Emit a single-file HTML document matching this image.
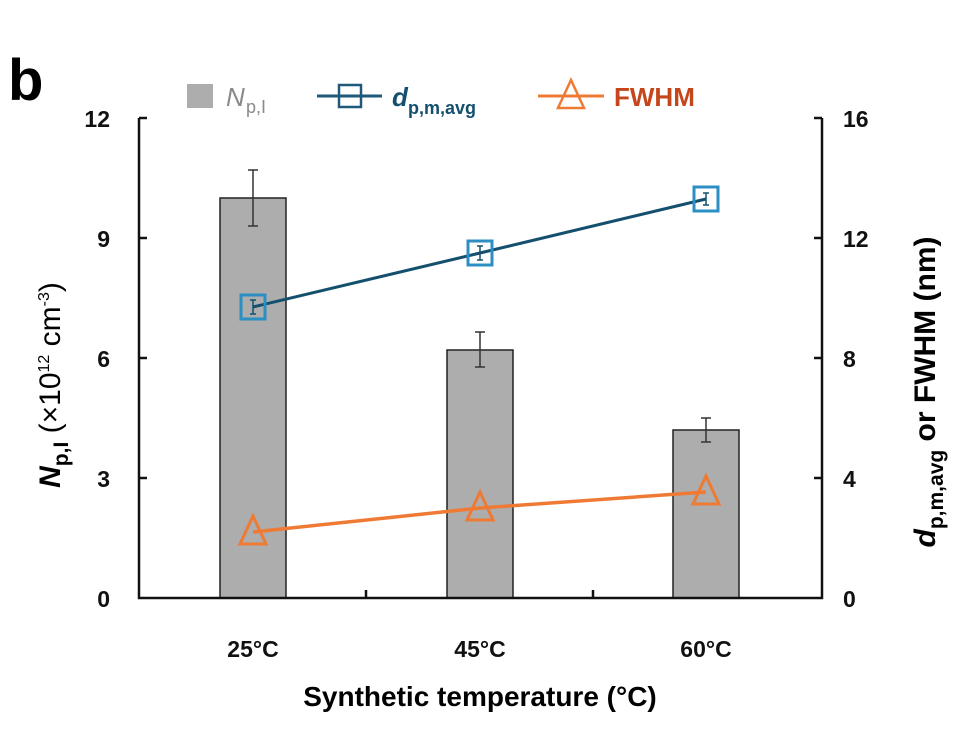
<!DOCTYPE html>
<html><head><style>body{margin:0;background:#fff}svg{display:block}</style></head><body>
<svg width="955" height="731" viewBox="0 0 955 731" xmlns="http://www.w3.org/2000/svg" font-family="'Liberation Sans',sans-serif">
<text x="8" y="100" font-size="58" font-weight="bold">b</text>
<!-- legend -->
<rect x="187" y="84" width="26" height="24" fill="#adadad"/>
<text x="226" y="106" font-size="26" fill="#8a8a8a" font-style="italic">N</text>
<text x="246" y="113" font-size="18" fill="#8a8a8a">p,I</text>
<line x1="317" y1="96" x2="382" y2="96" stroke="#1d5a7a" stroke-width="3"/>
<rect x="339" y="85" width="22" height="22" fill="none" stroke="#1d5a7a" stroke-width="2.5"/>
<text x="392" y="106" font-size="26" fill="#14506e" font-style="italic" font-weight="bold">d</text>
<text x="408" y="114" font-size="18" fill="#14506e" font-weight="bold">p,m,avg</text>
<line x1="538" y1="96" x2="604" y2="96" stroke="#ef7a34" stroke-width="3"/>
<polygon points="571,80 558,108 584,108" fill="none" stroke="#ef7a34" stroke-width="2.5"/>
<text x="614" y="106" font-size="26" fill="#c4461a" font-weight="bold">FWHM</text>
<!-- bars -->
<g fill="#adadad" stroke="#222" stroke-width="1.5">
<rect x="220" y="198" width="66" height="400"/>
<rect x="447" y="350" width="66" height="248"/>
<rect x="673" y="430" width="66" height="168"/>
</g>
<g stroke="#333" stroke-width="1.5">
<line x1="253" y1="170" x2="253" y2="226"/><line x1="248" y1="170" x2="258" y2="170"/><line x1="248" y1="226" x2="258" y2="226"/>
<line x1="480" y1="332" x2="480" y2="367"/><line x1="475" y1="332" x2="485" y2="332"/><line x1="475" y1="367" x2="485" y2="367"/>
<line x1="706" y1="418" x2="706" y2="442"/><line x1="701" y1="418" x2="711" y2="418"/><line x1="701" y1="442" x2="711" y2="442"/>
</g>
<!-- axes -->
<g stroke="#111" stroke-width="2.5" fill="none">
<polyline points="139,118 139,598 822,598 822,118"/>
<line x1="139" y1="118" x2="147" y2="118"/><line x1="139" y1="238" x2="147" y2="238"/><line x1="139" y1="358" x2="147" y2="358"/><line x1="139" y1="478" x2="147" y2="478"/>
<line x1="822" y1="118" x2="814" y2="118"/><line x1="822" y1="238" x2="814" y2="238"/><line x1="822" y1="358" x2="814" y2="358"/><line x1="822" y1="478" x2="814" y2="478"/>
<line x1="366" y1="598" x2="366" y2="590"/><line x1="593" y1="598" x2="593" y2="590"/>
</g>
<!-- lines -->
<polyline points="253,307 480,253 706,199" fill="none" stroke="#14506e" stroke-width="3"/>
<g fill="none" stroke="#2b8fc4" stroke-width="3">
<rect x="241" y="295" width="24" height="24"/><rect x="468" y="241" width="24" height="24"/><rect x="694" y="187" width="24" height="24"/>
</g>
<g stroke="#14506e" stroke-width="1.5">
<line x1="253" y1="300" x2="253" y2="314"/><line x1="250" y1="300" x2="256" y2="300"/><line x1="250" y1="314" x2="256" y2="314"/>
<line x1="480" y1="246" x2="480" y2="260"/><line x1="477" y1="246" x2="483" y2="246"/><line x1="477" y1="260" x2="483" y2="260"/>
<line x1="706" y1="193" x2="706" y2="205"/><line x1="703" y1="193" x2="709" y2="193"/><line x1="703" y1="205" x2="709" y2="205"/>
</g>
<polyline points="253,532 480,508 706,492" fill="none" stroke="#ef7a34" stroke-width="3.5"/>
<g fill="none" stroke="#ef7a34" stroke-width="3">
<polygon points="253,516 240,544 266,544"/><polygon points="480,492 467,520 493,520"/><polygon points="706,476 693,504 719,504"/>
</g>
<!-- tick labels -->
<g font-size="23" font-weight="bold" fill="#111">
<g text-anchor="end"><text x="110" y="127">12</text><text x="110" y="247">9</text><text x="110" y="367">6</text><text x="110" y="487">3</text><text x="110" y="607">0</text></g>
<g text-anchor="start"><text x="843" y="127">16</text><text x="843" y="247">12</text><text x="843" y="367">8</text><text x="843" y="487">4</text><text x="843" y="607">0</text></g>
<g text-anchor="middle"><text x="253" y="657">25°C</text><text x="480" y="657">45°C</text><text x="706" y="657">60°C</text></g>
</g>
<text x="480" y="706" font-size="28" font-weight="bold" text-anchor="middle">Synthetic temperature (°C)</text>
<text transform="translate(60,385) rotate(-90)" font-size="30" font-weight="bold" text-anchor="middle"><tspan font-style="italic">N</tspan><tspan font-size="21" dy="8">p,I</tspan><tspan dy="-8" font-weight="normal"> (×10</tspan><tspan font-size="16" dy="-11" font-weight="normal">12</tspan><tspan dy="11" font-weight="normal"> cm</tspan><tspan font-size="16" dy="-11" font-weight="normal">-3</tspan><tspan dy="11" font-weight="normal">)</tspan></text>
<text transform="translate(935,392) rotate(-90)" font-size="30" font-weight="bold" text-anchor="middle"><tspan font-style="italic">d</tspan><tspan font-size="21" dy="8">p,m,avg</tspan><tspan dy="-8"> or FWHM (nm)</tspan></text>
</svg>
</body></html>
